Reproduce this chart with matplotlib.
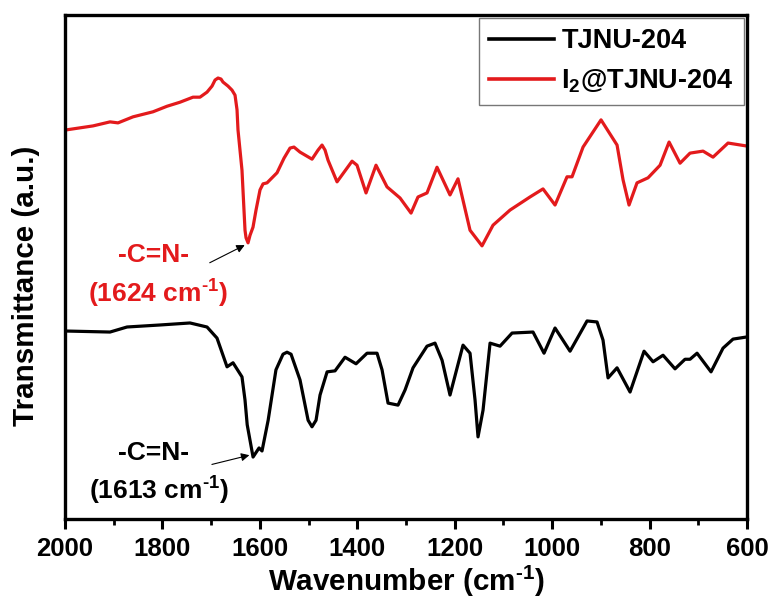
import numpy as np
import matplotlib.pyplot as plt
from matplotlib.ticker import MultipleLocator

plt.rcParams['font.family'] = 'Liberation Sans'
plt.rcParams['font.weight'] = 'bold'
plt.rcParams['mathtext.fontset'] = 'custom'
plt.rcParams['mathtext.rm'] = 'Liberation Sans:bold'
plt.rcParams['mathtext.it'] = 'Liberation Sans:bold'
plt.rcParams['mathtext.bf'] = 'Liberation Sans:bold'
plt.rcParams['mathtext.default'] = 'rm'

# FTIR spectra, wavenumber (cm-1) vs transmittance (offset, a.u.)
wn_i2 = [1998, 1942.5, 1907.6, 1891.2, 1860.4, 1819.4, 1790.6, 1764.0, 1737.3, 1722.9,
         1708.5, 1698.2, 1692, 1685.9, 1679.8, 1675.7, 1665.4, 1657.2, 1651, 1646.9,
         1644.9, 1640.8, 1636.7, 1632.6, 1630.5, 1628.4, 1624.3, 1620.2, 1614.1, 1607.9,
         1599.7, 1593.5, 1585.3, 1564.8, 1550.4, 1538.1, 1530, 1517.6, 1492.9, 1480.6,
         1472.4, 1466.2, 1460.1, 1441.6, 1410.8, 1400.6, 1382.1, 1361.6, 1339.0, 1312.3,
         1289.7, 1275.4, 1256.9, 1236.4, 1209.7, 1193.3, 1168.6, 1144.0, 1121.4, 1086.5,
         1045.5, 1018.8, 994.1, 969.5, 959.2, 936.6, 899.7, 866.8, 854.5, 842.2,
         825.8, 803.2, 778.5, 760.0, 737.5, 717.0, 690.3, 669.8, 639.0, 600]
t_i2 = [77.2, 78.0, 78.8, 78.6, 79.8, 80.8, 81.9, 82.7, 83.7, 83.7,
        84.7, 85.9, 87.1, 87.5, 87.3, 86.7, 85.9, 85.1, 84.1, 81.2,
        77.2, 73.2, 69.2, 61.3, 57.3, 55.8, 54.8, 56.3, 57.9, 61.3,
        65.3, 66.5, 66.7, 68.7, 71.6, 73.6, 73.8, 72.8, 71.4, 73.2,
        74.2, 73.2, 71.2, 66.9, 71.0, 70.2, 64.7, 70.2, 65.9, 63.7,
        60.7, 63.9, 64.7, 69.8, 64.3, 67.5, 57.3, 54.2, 58.3, 61.3,
        63.9, 65.5, 62.3, 67.9, 67.9, 73.8, 79.2, 74.2, 67.3, 62.3,
        66.7, 67.7, 70.2, 74.8, 70.6, 72.6, 73.0, 71.8, 74.6, 74.0]

wn_tjnu = [1998, 1907.6, 1872.7, 1805.0, 1743.4, 1708.5, 1688.0, 1667.4, 1655.1, 1636.7,
           1630.5, 1626, 1614, 1601.7, 1595.6, 1583, 1567, 1552.5, 1544.3, 1536,
           1517.6, 1501, 1493, 1484.7, 1476.5, 1462, 1445.7, 1425.2, 1402.6, 1380,
           1359.5, 1349.2, 1336.9, 1316.4, 1302, 1285.6, 1256.9, 1240.5, 1226, 1209.7,
           1183, 1168.6, 1158.3, 1152.2, 1141.9, 1127.5, 1107.0, 1082.3, 1039.3, 1016.7,
           994.1, 963.3, 928.4, 907.9, 895.6, 885.3, 866.8, 840.1, 811.4, 792.9,
           772.4, 747.8, 727.3, 717.0, 702.6, 673.9, 649.3, 628.7, 602]
t_tjnu = [37.3, 37.1, 38.1, 38.5, 38.9, 38.1, 35.9, 30.2, 31.0, 28.2,
          23.6, 18.7, 12.3, 14.1, 13.5, 19.6, 29.6, 32.7, 33.1, 32.7,
          27.6, 19.6, 18.3, 19.6, 24.6, 29.2, 29.4, 32.1, 30.8, 32.9,
          32.9, 29.6, 23.0, 22.6, 25.6, 30.0, 34.3, 34.9, 31.5, 24.6,
          34.5, 32.9, 23.6, 16.3, 21.6, 34.9, 34.3, 36.9, 37.1, 32.9,
          37.9, 33.3, 39.3, 39.1, 35.5, 28.0, 30.0, 25.2, 33.3, 31.2,
          32.5, 29.8, 31.7, 31.7, 32.9, 29.2, 33.9, 35.7, 36.1]

red = '#e31a1c'
sup = '$^{\u2010 1}$'

fig = plt.figure(figsize=(7.73, 6.01), dpi=100)
ax = fig.add_axes([0.0841, 0.1364, 0.8823, 0.8386])

ax.plot(wn_tjnu, t_tjnu, color='black', lw=2.3, solid_joinstyle='round', label='TJNU-204')
ax.plot(wn_i2, t_i2, color=red, lw=2.3, solid_joinstyle='round', label=r'I$_{2}$@TJNU-204')

ax.set_xlim(2000, 600)
ax.set_ylim(0, 100)
ax.xaxis.set_major_locator(MultipleLocator(200))
ax.xaxis.set_minor_locator(MultipleLocator(100))
ax.tick_params(axis='x', which='major', direction='out', length=7, width=2.2,
               labelsize=18.5, pad=6)
ax.tick_params(axis='x', which='minor', direction='out', length=4, width=2.0)
ax.set_yticks([])
for s in ax.spines.values():
    s.set_linewidth(2.4)

ax.set_xlabel('Wavenumber (cm' + sup + ')', fontsize=21.3, fontweight='bold', labelpad=2)
ax.set_ylabel('Transmittance (a.u.)', fontsize=21.3, fontweight='bold')
ax.yaxis.set_label_coords(-0.036, 0.462)

# peak labels for the imine stretch
ax.annotate('', xy=(1626, 54.6), xytext=(1708, 50.6),
            arrowprops=dict(arrowstyle='-|>', color='black', lw=0.8, mutation_scale=12))
ax.text(1818, 52.4, '-C=N-', color=red, fontsize=19, fontweight='bold',
        ha='center', va='center')
ax.text(1810, 44.6, '(1624 cm' + sup + ')', color=red, fontsize=19, fontweight='bold',
        ha='center', va='center')

ax.annotate('', xy=(1616, 12.8), xytext=(1704, 10.7),
            arrowprops=dict(arrowstyle='-|>', color='black', lw=0.8, mutation_scale=12))
ax.text(1818, 13.1, '-C=N-', color='black', fontsize=19, fontweight='bold',
        ha='center', va='center')
ax.text(1808, 5.6, '(1613 cm' + sup + ')', color='black', fontsize=19, fontweight='bold',
        ha='center', va='center')

leg = ax.legend(loc='upper right', fontsize=19.5, frameon=True, fancybox=False,
                handlelength=2.4, handletextpad=0.26, borderpad=0.37, labelspacing=0.5,
                borderaxespad=0.12)
leg.get_frame().set_edgecolor('#555555')
leg.get_frame().set_linewidth(1.0)
for line in leg.get_lines():
    line.set_linewidth(2.6)

fig.savefig('out.png', dpi=100)
plt.close(fig)
